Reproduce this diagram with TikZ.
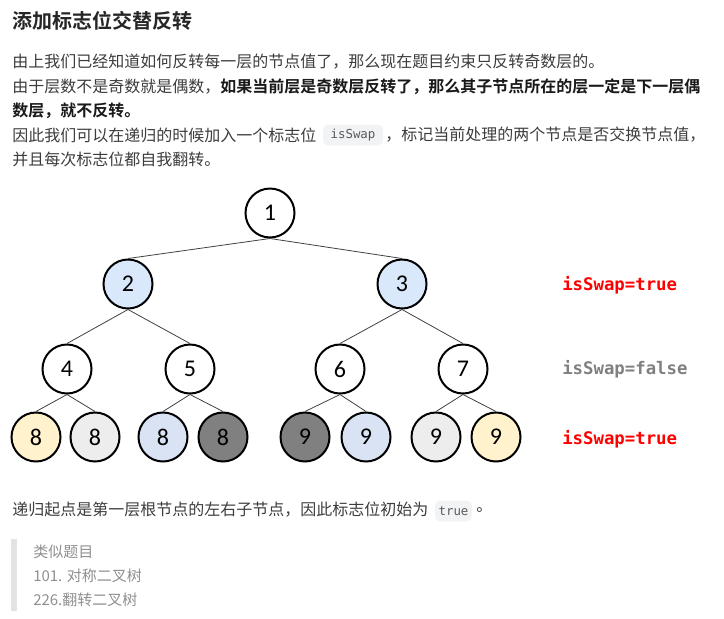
\documentclass[tikz,border=0pt]{standalone}
\usepackage{fontspec}
\setmainfont{Noto Sans CJK SC}[BoldFont={Noto Sans CJK SC Bold}]
\newfontfamily\treefont{Carlito}
\newfontfamily\codefont{DejaVu Sans Mono}
\usepackage{tikz}
\usetikzlibrary{positioning}

\definecolor{bodytext}{HTML}{3C3C3C}
\definecolor{quotetext}{HTML}{8F8F8F}
\definecolor{quotebar}{HTML}{E3E3E3}
\definecolor{codebg}{HTML}{F2F3F4}
\definecolor{codetext}{HTML}{5A5A5A}
\definecolor{lvlblue}{HTML}{DAE8FC}
\definecolor{leafyellow}{HTML}{FFF2CC}
\definecolor{leafgray}{HTML}{EDEDED}
\definecolor{leafblue}{HTML}{DAE3F3}
\definecolor{leafdark}{HTML}{808080}
\definecolor{swapred}{HTML}{FF0000}
\definecolor{swapgray}{HTML}{808080}

\begin{document}
\begin{tikzpicture}[x=0.75pt,y=0.75pt,yscale=-1,
  tnode/.style={circle,draw,line width=1.5pt,minimum size=36.75pt,inner sep=0pt,
    font=\treefont\fontsize{18pt}{18pt}\selectfont},
  txt/.style={anchor=west,inner sep=0pt,text=bodytext,font=\fontsize{12pt}{12pt}\selectfont},
  codebox/.style={rounded corners=4pt,fill=codebg,text=codetext,inner sep=0pt,
    minimum height=15.75pt,font=\codefont\fontsize{9.3pt}{9.3pt}\selectfont},
  flag/.style={anchor=west,inner sep=0pt,font=\codefont\bfseries\fontsize{13pt}{13pt}\selectfont},
  quote/.style={anchor=west,inner sep=0pt,text=quotetext,font=\fontsize{11.25pt}{11.25pt}\selectfont},
  tedge/.style={draw=black!75,line width=0.6pt}]
\useasboundingbox (0,0) rectangle (724,618);

% Text Node
\node [txt,text=black!85,font=\bfseries\fontsize{15pt}{15pt}\selectfont] (title) at (12,21) {添加标志位交替反转};
% Text Node
\node [txt] (line1) at (12,62) {由上我们已经知道如何反转每一层的节点值了，那么现在题目约束只反转奇数层的。};
% Text Node
\node [txt] (line2) at (12,87) {由于层数不是奇数就是偶数，\textbf{\color{black!90}如果当前层是奇数层反转了，那么其子节点所在的层一定是下一层偶}};
% Text Node
\node [txt,text=black!90,font=\bfseries\fontsize{12pt}{12pt}\selectfont] (line3) at (12,111) {数层，就不反转。};
% Text Node
\node [txt] (line4a) at (12,135) {因此我们可以在递归的时候加入一个标志位};
\node [codebox,minimum width=45pt] (code1) at (353,135) {isSwap};
\node [txt] (line4b) at (385,135) {，标记当前处理的两个节点是否交换节点值，};
% Text Node
\node [txt] (line5) at (12,159) {并且每次标志位都自我翻转。};

%Shape: Circle  (tree)
\node [tnode] (n1) at (270,213) {1};
\node [tnode,fill=lvlblue] (n2) at (128,284) {2};
\node [tnode,fill=lvlblue] (n3) at (402,284) {3};
\node [tnode] (n4) at (67,369) {4};
\node [tnode] (n5) at (190,369) {5};
\node [tnode] (n6) at (340,369) {6};
\node [tnode] (n7) at (463,369) {7};
\node [tnode,fill=leafyellow] (n8a) at (36,437) {8};
\node [tnode,fill=leafgray] (n8b) at (95,437) {8};
\node [tnode,fill=leafblue] (n8c) at (163,437) {8};
\node [tnode,fill=leafdark] (n8d) at (223,437) {8};
\node [tnode,fill=leafdark] (n9a) at (305,437) {9};
\node [tnode,fill=leafblue] (n9b) at (366,437) {9};
\node [tnode,fill=leafgray] (n9c) at (436,437) {9};
\node [tnode,fill=leafyellow] (n9d) at (496,437) {9};

%Straight Lines
\foreach \p/\c in {n1/n2,n1/n3,n2/n4,n2/n5,n3/n6,n3/n7,
                   n4/n8a,n4/n8b,n5/n8c,n5/n8d,n6/n9a,n6/n9b,n7/n9c,n7/n9d}
  \draw [tedge] (\p.south) -- (\c.north);

% Text Node
\node [flag,text=swapred] (flag1) at (562,285) {isSwap=true};
\node [flag,text=swapgray] (flag2) at (562,369) {isSwap=false};
\node [flag,text=swapred] (flag3) at (562,439) {isSwap=true};

% Text Node
\node [txt] (line6) at (12,510) {递归起点是第一层根节点的左右子节点，因此标志位初始为};
\node [codebox,minimum width=27.75pt] (code2) at (453.5,511) {true};
\node [txt] (line6b) at (476,510) {。};

%Shape: Rectangle (quote bar)
\fill [quotebar] (11,539) rectangle (17,611);
% Text Node
\node [quote] (q1) at (33,552) {类似题目};
\node [quote] (q2) at (33,576) {101. 对称二叉树};
\node [quote] (q3) at (33,600) {226.翻转二叉树};
\end{tikzpicture}
\end{document}
